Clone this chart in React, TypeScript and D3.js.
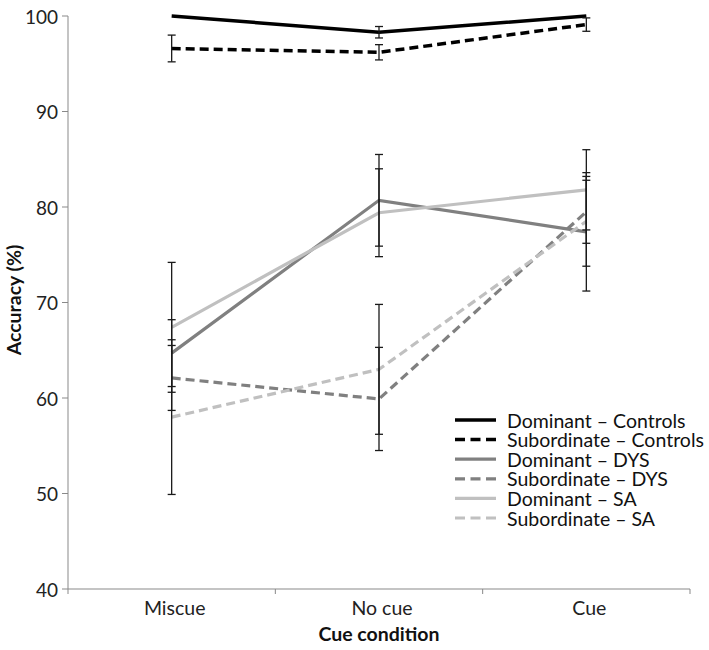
import React from "react";
import * as d3 from "d3";

const categories = ["Miscue", "No cue", "Cue"];
const seriesNames = [
  "Dominant – Controls",
  "Subordinate – Controls",
  "Dominant – DYS",
  "Subordinate – DYS",
  "Dominant – SA",
  "Subordinate – SA",
];
const domControls = [100, 98.3, 100];
const domControlsErr = [0, 0.6, 0];
const subControls = [96.6, 96.2, 99.1];
const subControlsErr = [1.4, 0.8, 0.7];
const domDYS = [64.7, 80.7, 77.4];
const domDYSErr = [3.5, 4.8, 6.2];
const subDYS = [62.1, 59.9, 79.5];
const subDYSErr = [3.4, 5.4, 3.3];
const domSA = [67.4, 79.4, 81.8];
const domSAErr = [6.8, 4.6, 4.2];
const subSA = [58.0, 63.0, 78.5];
const subSAErr = [8.1, 6.8, 4.7];
const yTicks = [40, 50, 60, 70, 80, 90, 100];

const seriesValues = [domControls, subControls, domDYS, subDYS, domSA, subSA];
const seriesErrs = [domControlsErr, subControlsErr, domDYSErr, subDYSErr, domSAErr, subSAErr];
const seriesColors = ["#000000", "#000000", "#808080", "#808080", "#c0c0c0", "#c0c0c0"];
const seriesDashed = [false, true, false, true, false, true];

const W = 709;
const H = 650;
const FONT = "Lato, 'Open Sans', sans-serif";

export default function App() {
  const left = 68;
  const right = 690;
  const top = 16;
  const bottom = 589;
  const x = d3.scaleBand<string>().domain(categories).range([left, right]);
  const xc = (c: string) => (x(c) as number) + x.bandwidth() / 2;
  const y = d3.scaleLinear().domain([40, 100]).range([bottom, top]);
  const line = d3
    .line<number>()
    .x((_, i) => xc(categories[i]))
    .y((d) => y(d));

  const legendX = 455;
  const legendY = 420;
  const legendStep = 19.6;

  return (
    <svg width={W} height={H} style={{ position: "absolute", left: 0, top: 0, background: "#fff" }}>
      <rect width={W} height={H} fill="#fff" />
      {/* axes */}
      <line x1={left} x2={left} y1={top} y2={bottom} stroke="#898989" strokeWidth={1} />
      <line x1={left} x2={right} y1={bottom} y2={bottom} stroke="#898989" strokeWidth={1} />
      {yTicks.map((t) => (
        <g key={t}>
          <line x1={left - 6} x2={left} y1={y(t)} y2={y(t)} stroke="#898989" />
          <text
            x={left - 10}
            y={y(t)}
            textAnchor="end"
            dominantBaseline="central"
            fontFamily={FONT}
            fontSize={19}
            fill="#222"
          >
            {t}
          </text>
        </g>
      ))}
      {[...categories.map((c) => x(c) as number), right].map((bx, i) => (
        <line key={i} x1={bx} x2={bx} y1={bottom} y2={bottom + 5} stroke="#898989" />
      ))}
      {categories.map((c) => (
        <text
          key={c}
          x={xc(c) + 3}
          y={bottom + 26}
          textAnchor="middle"
          fontFamily={FONT}
          fontSize={19.5}
          fill="#222"
        >
          {c}
        </text>
      ))}
      <text
        x={(left + right) / 2}
        y={bottom + 52}
        textAnchor="middle"
        fontFamily={FONT}
        fontSize={19.5}
        fontWeight="bold"
        fill="#111"
      >
        Cue condition
      </text>
      <text
        transform={`translate(21, 300) rotate(-90)`}
        textAnchor="middle"
        fontFamily={FONT}
        fontSize={19.5}
        fontWeight="bold"
        fill="#111"
      >
        Accuracy (%)
      </text>

      {/* series lines */}
      {seriesValues.map((vals, si) => (
        <path
          key={si}
          d={line(vals) as string}
          fill="none"
          stroke={seriesColors[si]}
          strokeWidth={si < 2 ? 3.5 : 3.2}
          strokeDasharray={seriesDashed[si] ? "9,5" : undefined}
        />
      ))}

      {/* error bars */}
      {seriesValues.map((vals, si) =>
        vals.map((v, i) => {
          const e = seriesErrs[si][i];
          if (!e) return null;
          const cx = xc(categories[i]);
          const y1 = y(v + e);
          const y2 = y(v - e);
          return (
            <g key={`${si}-${i}`} stroke="#1a1a1a" strokeWidth={1.3}>
              <line x1={cx} x2={cx} y1={y1} y2={y2} />
              <line x1={cx - 4} x2={cx + 4} y1={y1} y2={y1} />
              <line x1={cx - 4} x2={cx + 4} y1={y2} y2={y2} />
            </g>
          );
        })
      )}

      {/* legend */}
      {seriesNames.map((name, si) => {
        const ly = legendY + si * legendStep;
        return (
          <g key={name}>
            <line
              x1={legendX}
              x2={legendX + 41}
              y1={ly}
              y2={ly}
              stroke={seriesColors[si]}
              strokeWidth={si < 2 ? 3.5 : 3.2}
              strokeDasharray={seriesDashed[si] ? "10,5.5" : undefined}
            />
            <text
              x={legendX + 52}
              y={ly}
              dominantBaseline="central"
              fontFamily={FONT}
              fontSize={19.5}
              fill="#111"
            >
              {name}
            </text>
          </g>
        );
      })}
    </svg>
  );
}
